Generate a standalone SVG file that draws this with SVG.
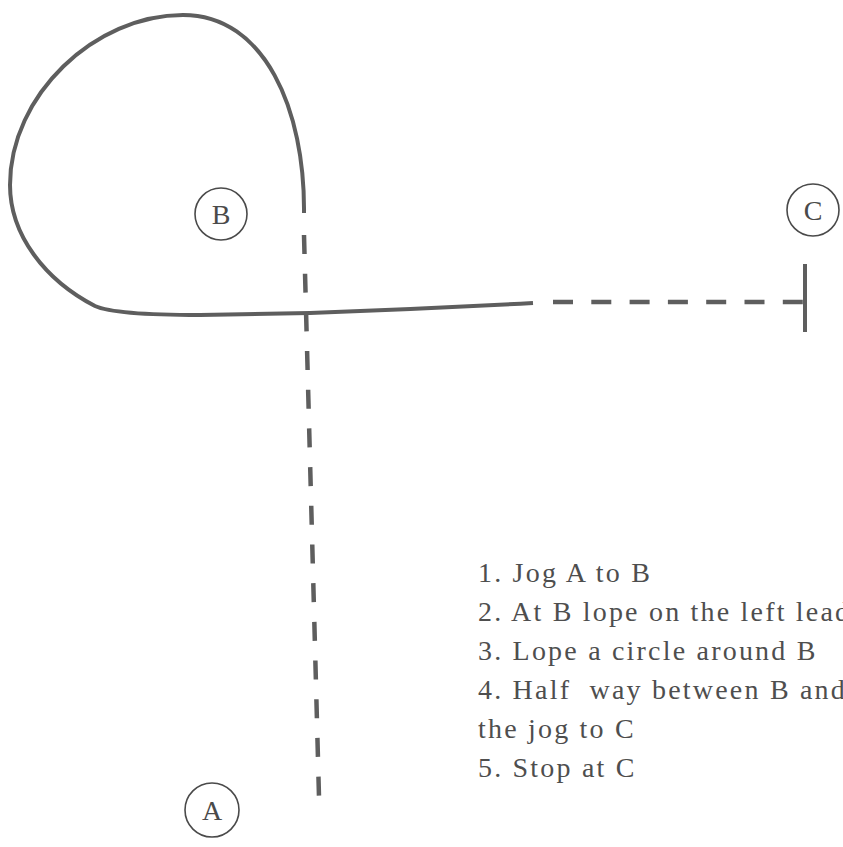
<svg xmlns="http://www.w3.org/2000/svg" width="843" height="847" viewBox="0 0 843 847">
<style>
.path{fill:none;stroke:#5e5e5e;stroke-width:4;stroke-linecap:butt}
.dash{fill:none;stroke:#5e5e5e;stroke-width:4.5}
.node circle{fill:none;stroke:#4a4a4a;stroke-width:1.6}
.node text{font-size:28px;fill:#4a4a4a;text-anchor:middle}
.steps text{font-size:28px;fill:#4e4e4e;letter-spacing:2.2px}
</style>
<rect width="843" height="847" fill="#ffffff"/>
<g id="connectors">
<path class="path" d="M304,213 C305,110 265,15 183,15 C95,15 10,95 10,185 C10,235 45,280 95,306 C110,313 150,315 200,315 L310,313 Q420,309 533,303"/>
<path class="dash" d="M553,302 L805,302" stroke-dasharray="20 18.3"/>
<path class="path" d="M805,264 L805,332"/>
<path class="dash" d="M304,235 L319,797" stroke-dasharray="19 19.7"/>
</g>
<g font-family="'Liberation Serif', 'Times New Roman', 'DejaVu Serif', serif">
<g id="B" class="node"><circle cx="221" cy="214" r="26"/><text x="221" y="224">B</text></g>
<g id="C" class="node"><circle cx="813" cy="210" r="26"/><text x="813" y="220">C</text></g>
<g id="A" class="node"><circle cx="212" cy="810" r="27"/><text x="212" y="820">A</text></g>
<g id="steps" class="steps">
<text x="478" y="582">1. Jog A to B</text>
<text x="478" y="621">2. At B lope on the left lead</text>
<text x="478" y="660">3. Lope a circle around B</text>
<text x="478" y="699" xml:space="preserve">4. Half  way between B and</text>
<text x="478" y="738">the jog to C</text>
<text x="478" y="777">5. Stop at C</text>
</g>
</g>
</svg>
